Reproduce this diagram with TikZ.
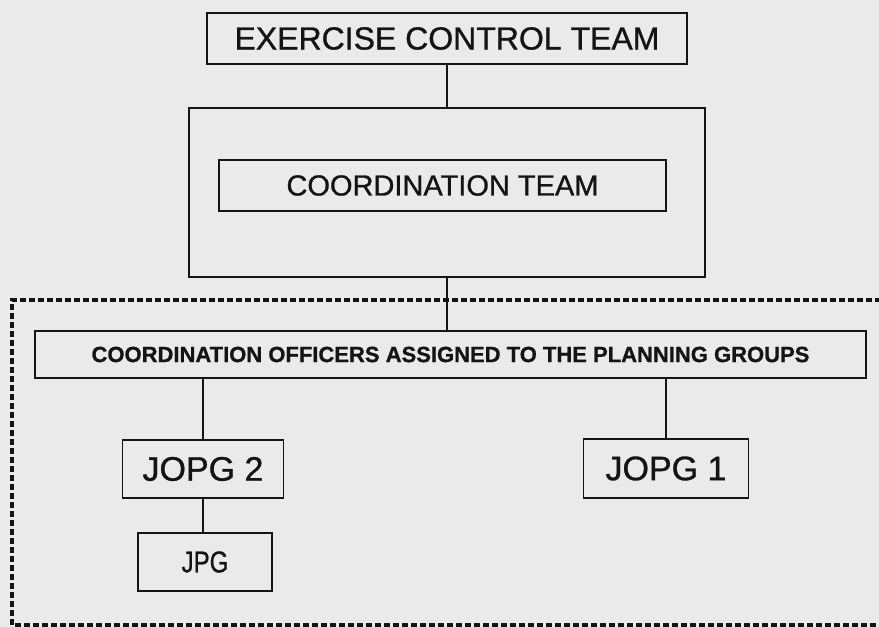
\documentclass[tikz,border=0pt]{standalone}
\usepackage{fontspec}
\setmainfont{Liberation Sans}
\newfontfamily\scanfont[FakeBold=0.9]{Liberation Sans}
\definecolor{paper}{RGB}{234,234,234}
\definecolor{ink}{RGB}{20,20,20}
\begin{document}
\begin{tikzpicture}[x=1pt,y=-1pt,
  box/.style={draw=ink,line width=1.8pt,inner sep=0pt,outer sep=0pt,anchor=center,text=ink,font=\scanfont},
  link/.style={draw=ink,line width=1.8pt},
  frame/.style={draw=ink,line width=3.2pt,dash pattern=on 6pt off 3pt}]
\useasboundingbox (0,0) rectangle (879,627);
\fill[paper] (0,0) rectangle (879,627);
\clip (0,0) rectangle (879,627);
% dashed region
\draw[frame] (890,300) -- (12,300) -- (12,625) -- (890,625);
% nodes
\node[box,minimum width=480pt,minimum height=51pt] (ect) at (447,38.5)
  {\fontsize{32}{36}\selectfont EXERCISE CONTROL TEAM};
\node[box,minimum width=516pt,minimum height=169pt] (cframe) at (447,192.5) {};
\node[box,minimum width=447pt,minimum height=51pt] (ct) at (442.5,185.5)
  {\fontsize{29}{33}\selectfont COORDINATION TEAM};
\node[box,minimum width=831pt,minimum height=47pt] (off) at (450.5,354.5)
  {\fontsize{22}{26}\selectfont\bfseries COORDINATION OFFICERS ASSIGNED TO THE PLANNING GROUPS};
\node[box,minimum width=161pt,minimum height=58pt] (jopg2) at (203,469)
  {\fontsize{34}{38}\selectfont JOPG 2};
\node[box,minimum width=165pt,minimum height=59pt] (jopg1) at (666,468.5)
  {\fontsize{34}{38}\selectfont JOPG 1};
\node[box,minimum width=134pt,minimum height=58pt] (jpg) at (205,562)
  {\fontsize{30}{34}\selectfont\scalebox{0.8}[1]{JPG}};
% connectors
\draw[link] (ect.south) -- (cframe.north);
\draw[link] (cframe.south) -- (off.north -| cframe.south);
\draw[link] (jopg2.north) -- (jopg2.north |- off.south);
\draw[link] (jopg1.north) -- (jopg1.north |- off.south);
\draw[link] (jopg2.south) -- (jopg2.south |- jpg.north);
\end{tikzpicture}
\end{document}
